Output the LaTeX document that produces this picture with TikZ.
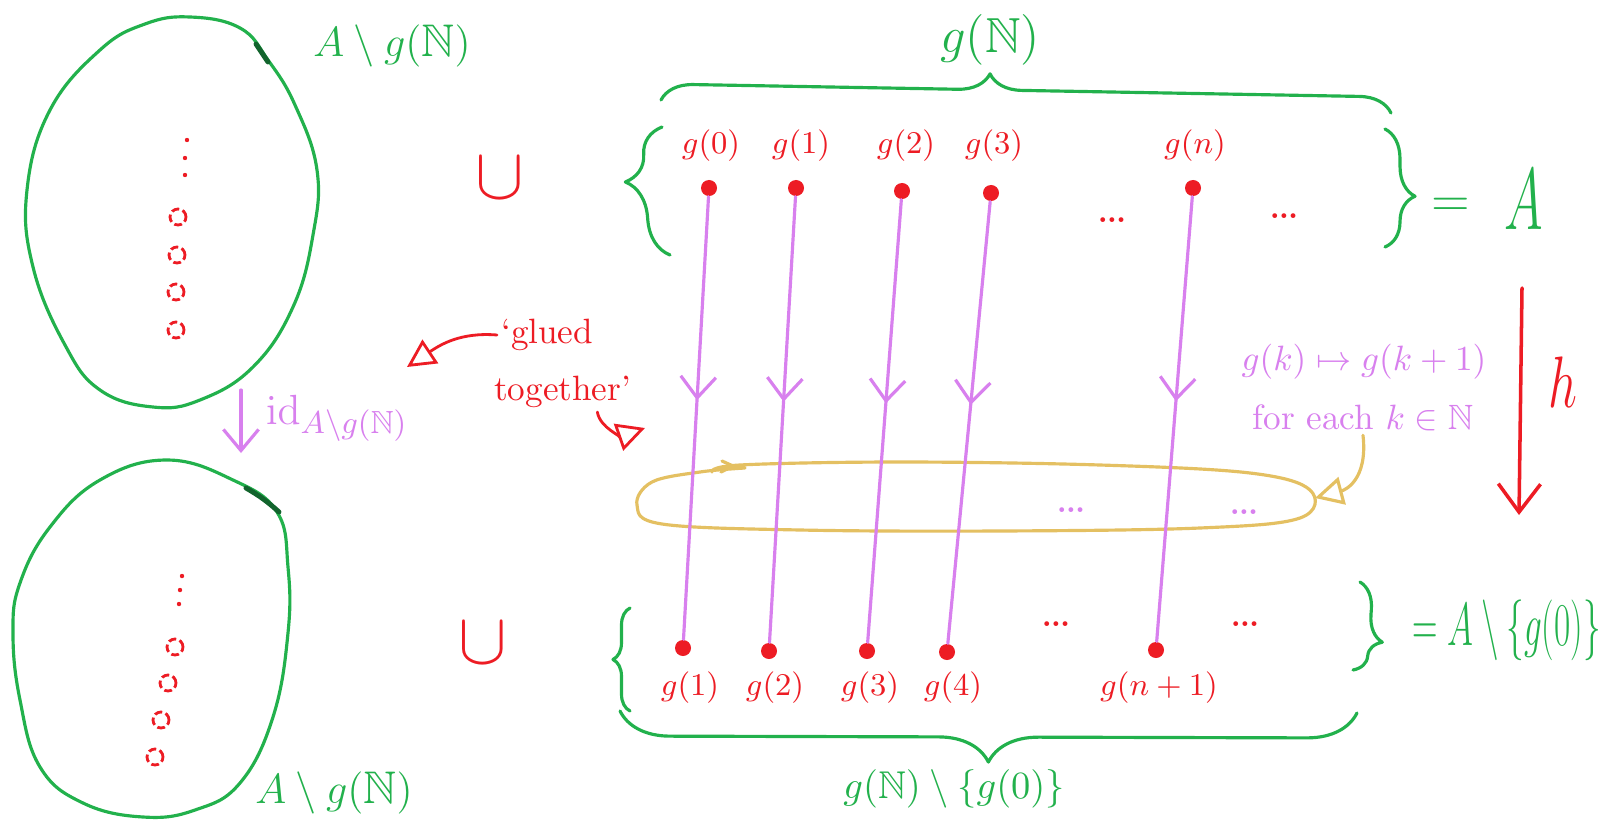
\documentclass[tikz,border=0pt]{standalone}
\usepackage{amssymb}
\usepackage{graphicx}
\usetikzlibrary{arrows.meta,decorations.pathreplacing,decorations.markings}

\definecolor{inkgreen}{RGB}{34,177,76}
\definecolor{inkdark}{RGB}{18,100,45}
\definecolor{inkred}{RGB}{237,28,36}
\definecolor{inkpink}{RGB}{216,128,238}
\definecolor{inkyellow}{RGB}{228,192,98}

\tikzset{
  greenline/.style={draw=inkgreen, line width=0.9pt, line cap=round, line join=round},
  redline/.style={draw=inkred, line width=0.8pt, line cap=round},
  pinkline/.style={draw=inkpink, line width=0.9pt, line cap=round},
  yellowline/.style={draw=inkyellow, line width=0.9pt, line cap=round},
  hollowpt/.style={draw=inkred, line width=0.8pt, dash pattern=on 2.2pt off 1pt},
  dot/.style={circle, fill=inkred, inner sep=0pt, minimum size=0.16cm},
  glbl/.style={text=inkred, font=\fontsize{9.5}{11}\selectfont, inner sep=1pt},
  rdots/.style={text=inkred, font=\fontsize{14}{16}\selectfont, inner sep=0pt, anchor=base},
  pdots/.style={text=inkpink, font=\fontsize{14}{16}\selectfont, inner sep=0pt, anchor=base},
  cupsign/.style={text=inkred, font=\fontsize{22}{24}\selectfont, inner sep=0pt},
  greentext/.style={text=inkgreen, inner sep=1pt},
  pinktext/.style={text=inkpink, font=\fontsize{10}{12}\selectfont, inner sep=1pt},
  redtext/.style={text=inkred, font=\fontsize{10}{12}\selectfont, inner sep=1pt},
  mapline/.style={pinkline, postaction={decorate},
    decoration={markings, mark=at position 0.46 with
      {\arrow[inkpink]{Straight Barb[length=6pt,width=10pt]}}}},
  setbrace/.style 2 args={greenline, decorate,
    decoration={brace, amplitude=#1, aspect=#2}},
  opentip/.style={-{Triangle[open,length=8pt,width=8pt]}},
  barbtip/.style={-{Straight Barb[length=6pt,width=10pt]}}
}

\begin{document}
\begin{tikzpicture}[x=0.01cm, y=-0.01cm]
\fill[white] (0,0) rectangle (1615,821);
\useasboundingbox (0,0) rectangle (1615,821);

% ---- the two copies of A \ g(N) on the left ----
\draw[greenline] plot[smooth cycle, tension=0.7] coordinates {
  (190,17) (240,28) (268,60) (295,105) (317,170) (313,235) (293,307)
  (253,367) (200,400) (153,407) (100,390) (65,345) (33,267) (27,190)
  (50,110) (100,50) (145,24)};
\draw[inkdark, line width=1.4pt, line cap=round] (256,44) -- (268,62);

\draw[greenline] plot[smooth cycle, tension=0.7] coordinates {
  (167,460) (233,480) (277,512) (288,567) (288,633) (273,717) (240,783)
  (195,810) (143,817) (83,803) (40,767) (20,700) (13,633) (20,583)
  (50,527) (100,480)};
\draw[inkdark, line width=1.4pt, line cap=round] (246,488) to[bend left=6] (279,512);

% points of A \ g(N)
\foreach \p in {(178,217),(177,255),(176,292),(176,330)}
  \draw[hollowpt] \p circle[radius=0.08cm];
\foreach \p in {(187,140),(185,158),(185,175)}
  \fill[inkred] \p circle[radius=0.022cm];
\foreach \p in {(175,647),(168,683),(161,720),(155,757)}
  \draw[hollowpt] \p circle[radius=0.08cm];
\foreach \p in {(182,576),(180,590),(179,604)}
  \fill[inkred] \p circle[radius=0.022cm];

\node[greentext, font=\fontsize{13}{15}\selectfont] (topset) at (392,46) {$A\setminus g(\mathbb{N})$};
\node[greentext, font=\fontsize{13}{15}\selectfont] (botset) at (334,793) {$A\setminus g(\mathbb{N})$};

% identity on A \ g(N)
\coordinate (i1) at (241,390);
\coordinate (i2) at (241,453);
\draw[pinkline, barbtip] (i1) -- (i2);
\node[pinktext, font=\fontsize{13}{15}\selectfont, anchor=base west] (idl) at (262,424)
  {$\mathrm{id}_{A\setminus g(\mathbb{N})}$};

% ---- union signs ----
\node[cupsign] (cupT) at (500,178) {$\cup$};
\node[cupsign] (cupB) at (483,643) {$\cup$};

% ---- the loop around the mapping arrows ----
\draw[yellowline] plot[smooth, tension=0.6] coordinates {
  (712,472) (740,465) (900,462) (1100,465) (1250,473) (1310,490)
  (1300,518) (1200,528) (1000,531) (800,530) (662,524) (637,505)
  (652,482) (700,472) (745,468)};
\draw[yellowline] (722,461) -- (733,466) -- (721,472);

% ---- g(N) and its image ----
\node[dot] (t0) at (709,188) {};
\node[dot] (t1) at (796,188) {};
\node[dot] (t2) at (902,191) {};
\node[dot] (t3) at (991,193) {};
\node[dot] (t4) at (1193,188) {};

\node[dot] (b0) at (683,648) {};
\node[dot] (b1) at (769,651) {};
\node[dot] (b2) at (867,651) {};
\node[dot] (b3) at (947,652) {};
\node[dot] (b4) at (1156,650) {};

\node[glbl] (lt0) at (711,146) {$g(0)$};
\node[glbl] (lt1) at (801,146) {$g(1)$};
\node[glbl] (lt2) at (906,146) {$g(2)$};
\node[glbl] (lt3) at (994,146) {$g(3)$};
\node[glbl] (lt4) at (1195,146) {$g(n)$};

\node[glbl] (lb0) at (690,688) {$g(1)$};
\node[glbl] (lb1) at (775,688) {$g(2)$};
\node[glbl] (lb2) at (870,688) {$g(3)$};
\node[glbl] (lb3) at (953,688) {$g(4)$};
\node[glbl] (lb4) at (1159,688) {$g(n+1)$};

\node[rdots] (dt1) at (1112,222) {\ldots};
\node[rdots] (dt2) at (1284,218) {\ldots};
\node[rdots] (db1) at (1056,626) {\ldots};
\node[rdots] (db2) at (1245,626) {\ldots};
\node[pdots] (dy1) at (1071,512) {\ldots};
\node[pdots] (dy2) at (1244,514) {\ldots};

\draw[mapline] (t0) -- (b0);
\draw[mapline] (t1) -- (b1);
\draw[mapline] (t2) -- (b2);
\draw[mapline] (t3) -- (b3);
\draw[mapline] (t4) -- (b4);

% set braces
\draw[setbrace={0.4cm}{0.59}] (670,255) -- (662,127);
\draw[setbrace={0.3cm}{0.57}] (1385,129) -- (1385,247);
\draw[setbrace={0.17cm}{0.5}] (630,711) -- (630,608);
\draw[setbrace={0.27cm}{0.66}] (1360,582) -- (1353,670);

% over- and underbraces
\draw[setbrace={0.32cm}{0.45}] (661,100) -- (1391,113);
\node[greentext, font=\fontsize{14}{16}\selectfont] (gN) at (990,40) {$g(\mathbb{N})$};
\draw[setbrace={0.5cm}{0.5}] (1357,713) -- (620,711);
\node[greentext, font=\fontsize{11}{13}\selectfont] (gNm) at (954,789) {$g(\mathbb{N})\setminus\{g(0)\}$};

% equalities on the right
\node[greentext, font=\fontsize{14}{16}\selectfont] (eq1) at (1451,207) {$=$};
\node[greentext] (bigA) at (1524,200) {\scalebox{0.6}[1]{\fontsize{30}{32}\selectfont$A$}};
\node[greentext, anchor=west] (eq2) at (1408,630)
  {\scalebox{0.58}[1]{\fontsize{17}{19}\selectfont$=A\setminus\{g(0)\}$}};

% the bijection h
\coordinate (h1) at (1522,288);
\coordinate (h2) at (1519,515);
\draw[redline, line width=1pt, -{Straight Barb[length=8pt,width=12pt]}] (h1) -- (h2);
\node[text=inkred] (hl) at (1563,382) {\scalebox{0.7}[1]{\fontsize{22}{24}\selectfont$h$}};

% description of h on g(N)
\node[pinktext] (map) at (1364,362) {$g(k)\mapsto g(k+1)$};
\node[pinktext] (fe) at (1363,418) {for each $k\in\mathbb{N}$};
\coordinate (ye) at (1315,498);
\draw[yellowline, opentip] (fe.south) .. controls (1368,480) and (1345,490) .. (ye);

% 'glued together'
\node[redtext, anchor=west] (glue1) at (497,335) {`glued};
\node[redtext, anchor=west] (glue2) at (490,392) {together'};
\coordinate (ga) at (407,367);
\coordinate (gb) at (645,428);
\draw[redline, opentip] (glue1.west) .. controls (460,332) and (440,345) .. (ga);
\draw[redline, opentip] (glue2.-30) .. controls (600,428) and (622,436) .. (gb);
\end{tikzpicture}
\end{document}
